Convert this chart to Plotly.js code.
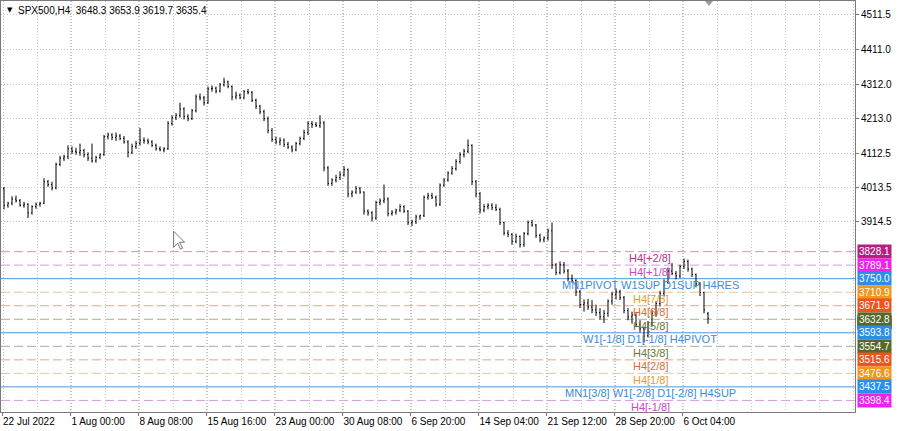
<!DOCTYPE html>
<html>
<head>
<meta charset="utf-8">
<script src="https://cdn.plot.ly/plotly-3.0.1.min.js"></script>
<style>html,body{margin:0;padding:0;background:#fff;}#chart{width:900px;height:431px;}</style>
</head>
<body>
<div id="chart"></div>
<script>
// ---- Data (H4 bars, aggregated) ----
const openP = [4010,3962,3968,3980,3975,3962,3965,3940,3958,3965,3968,4030,4022,4012,4080,4098,4102,4125,4118,4115,4120,4108,4098,4090,4100,4108,4160,4165,4158,4162,4155,4145,4115,4132,4140,4150,4148,4145,4135,4125,4122,4125,4198,4215,4222,4240,4218,4212,4235,4275,4272,4258,4298,4300,4292,4310,4318,4305,4275,4280,4272,4290,4288,4265,4248,4232,4212,4178,4152,4145,4150,4138,4130,4122,4140,4155,4172,4198,4195,4192,4200,4070,4025,4035,4042,4050,4065,3995,4000,4010,4000,3945,3940,3925,3970,3975,3980,3938,3942,3948,3958,3945,3912,3915,3928,3932,3985,3990,3985,3965,4020,4035,4055,4068,4088,4108,4118,4135,4030,3995,3948,3958,3962,3955,3950,3912,3882,3878,3858,3872,3848,3880,3912,3905,3875,3862,3868,3888,3790,3768,3790,3772,3750,3745,3712,3675,3680,3668,3660,3652,3640,3650,3685,3705,3712,3695,3658,3640,3645,3618,3605,3585,3620,3650,3678,3708,3740,3772,3765,3758,3785,3800,3778,3762,3735,3710,3648.3];
const highP = [4015,3972,3988,3990,3980,3972,3968,3962,3970,3972,4040,4035,4030,4085,4105,4108,4135,4132,4128,4140,4125,4115,4140,4105,4112,4165,4172,4170,4172,4168,4162,4150,4140,4148,4185,4158,4155,4150,4140,4132,4130,4205,4222,4228,4258,4245,4225,4240,4282,4285,4278,4305,4308,4305,4315,4330,4322,4308,4290,4285,4295,4298,4292,4270,4252,4238,4218,4185,4160,4158,4155,4145,4135,4145,4160,4180,4205,4205,4202,4222,4205,4075,4040,4050,4060,4075,4068,4005,4018,4015,4002,3950,3945,3975,3982,4022,3985,3948,3952,3965,3962,3948,3920,3935,3935,3990,3998,3998,3990,4025,4040,4060,4075,4095,4115,4125,4152,4138,4035,4000,3965,3968,3968,3965,3955,3915,3890,3882,3880,3875,3885,3918,3920,3908,3880,3872,3895,3912,3795,3800,3798,3778,3762,3748,3718,3690,3692,3688,3675,3665,3660,3690,3712,3722,3718,3700,3665,3655,3650,3630,3612,3628,3660,3685,3715,3748,3782,3795,3772,3790,3808,3805,3782,3765,3740,3712,3653.9];
const lowP = [3950,3955,3962,3970,3958,3955,3925,3935,3952,3958,3965,4015,4005,4008,4075,4090,4095,4110,4108,4105,4100,4090,4085,4085,4095,4105,4152,4150,4148,4150,4140,4100,4110,4125,4135,4140,4138,4130,4120,4118,4115,4122,4192,4208,4215,4210,4205,4208,4230,4265,4250,4255,4290,4285,4288,4305,4300,4265,4268,4268,4268,4282,4260,4240,4225,4205,4170,4145,4138,4135,4130,4125,4115,4118,4135,4150,4165,4185,4188,4185,4060,4018,4018,4028,4035,4045,3985,3985,3995,3995,3935,3932,3915,3920,3962,3968,3930,3932,3935,3942,3940,3905,3902,3908,3920,3928,3978,3980,3958,3960,4015,4030,4050,4062,4082,4100,4112,4020,3985,3938,3942,3950,3948,3945,3905,3875,3870,3848,3852,3840,3842,3875,3900,3868,3855,3855,3860,3778,3760,3762,3765,3742,3738,3700,3665,3655,3660,3650,3642,3632,3622,3640,3675,3690,3688,3650,3630,3620,3610,3595,3565,3580,3612,3640,3670,3700,3735,3760,3748,3752,3778,3770,3755,3725,3700,3650,3619.7];
const closeP = [3962,3968,3980,3975,3962,3965,3940,3958,3965,3968,4030,4022,4012,4080,4098,4102,4125,4118,4115,4120,4108,4098,4090,4100,4108,4160,4165,4158,4162,4155,4145,4115,4132,4140,4150,4148,4145,4135,4125,4122,4125,4198,4215,4222,4240,4218,4212,4235,4275,4272,4258,4298,4300,4292,4310,4318,4305,4275,4280,4272,4290,4288,4265,4248,4232,4212,4178,4152,4145,4150,4138,4130,4122,4140,4155,4172,4198,4195,4192,4200,4070,4025,4035,4042,4050,4065,3995,4000,4010,4000,3945,3940,3925,3970,3975,3980,3938,3942,3948,3958,3945,3912,3915,3928,3932,3985,3990,3985,3965,4020,4035,4055,4068,4088,4108,4118,4135,4030,3995,3948,3958,3962,3955,3950,3912,3882,3878,3858,3872,3848,3880,3912,3905,3875,3862,3868,3888,3790,3768,3790,3772,3750,3745,3712,3675,3680,3668,3660,3652,3640,3650,3685,3705,3712,3695,3658,3640,3645,3618,3605,3585,3620,3650,3678,3708,3740,3772,3765,3758,3785,3800,3778,3762,3735,3710,3660,3635.4];

// time-axis labels (bar-index positions)
const timeLabels = ['22 Jul 2022','1 Aug 00:00','8 Aug 08:00','15 Aug 16:00','23 Aug 00:00','30 Aug 08:00','6 Sep 20:00','14 Sep 04:00','21 Sep 12:00','28 Sep 20:00','6 Oct 04:00'];
const timeTickPos = [-0.5,16.6,33.6,50.6,67.6,84.6,101.6,118.6,135.6,152.6,169.6];

// price-axis ticks
const priceTicks = [4511.5,4411.0,4312.0,4213.0,4112.5,4013.5,3914.5];
const priceTickText = ['4511.5','4411.0','4312.0','4213.0','4112.5','4013.5','3914.5'];

// Murrey-math / pivot levels
const levels = [3828.1,3789.1,3750.0,3710.9,3671.9,3632.8,3593.8,3554.7,3515.6,3476.6,3437.5,3398.4];
const levelNames = ['H4[+2/8]','H4[+1/8]','MN1PIVOT W1SUP D1SUP H4RES','H4[7/8]','H4[6/8]','H4[5/8]','W1[-1/8] D1[-1/8] H4PIVOT','H4[3/8]','H4[2/8]','H4[1/8]','MN1[3/8] W1[-2/8] D1[-2/8] H4SUP','H4[-1/8]'];
const levelSolid = [false,false,true,false,false,false,true,false,false,false,true,false];
const levelBoxColors = ['#B52181','#EE22EE','#2A8EEB','#F3961C','#EC5420','#56682C','#2A8EEB','#56682C','#EC5420','#F3961C','#2A8EEB','#EE22EE'];
const levelLineColors = ['#C99BBE','#DD99DD','#4F95D8','#E6C79A','#E3A88C','#A8AC96','#4F95D8','#A8AC96','#E3A88C','#E6C79A','#4F95D8','#DD99DD'];
const levelTextColors = ['#B0358A','#CC44CC','#3A8BDC','#E69A3C','#E06A30','#66783A','#3A8BDC','#66783A','#E06A30','#E69A3C','#3A8BDC','#CC44CC'];
const lastPrice = 3635.4;
const headerText = 'SPX500,H4\u00a0\u00a03648.3 3653.9 3619.7 3635.4';

// ---- Build ----
const xIdx = closeP.map((_, i) => i);
const FONT = 'Liberation Sans, Arial, sans-serif';

const trace = {
  type: 'ohlc', x: xIdx, open: openP, high: highP, low: lowP, close: closeP,
  increasing: {line: {color: '#000', width: 1}},
  decreasing: {line: {color: '#000', width: 1}},
  tickwidth: 0.25, hoverinfo: 'skip', showlegend: false
};

const shapes = levels.map((v, k) => ({
  type: 'line', xref: 'paper', x0: 0, x1: 1, yref: 'y', y0: v, y1: v,
  line: {color: levelLineColors[k], width: 1, dash: levelSolid[k] ? 'solid' : '9px,4px'},
  layer: 'below'
}));
// mouse cursor (screenshot artefact)
shapes.push({type: 'path', xref: 'x', yref: 'y', xsizemode: 'pixel', ysizemode: 'pixel',
  xanchor: 42.4, yanchor: 3887,
  path: 'M0,0 L0,-16 L4,-12 L7,-18 L9,-17 L6,-11 L11,-11 Z',
  fillcolor: '#fff', line: {color: '#555', width: 0.8}});
// chart-shift marker
shapes.push({type: 'path', xref: 'paper', yref: 'paper', xsizemode: 'pixel', ysizemode: 'pixel',
  xanchor: 0.829, yanchor: 1, path: 'M-4,0 L4,0 L0,-5 Z',
  fillcolor: '#9a9a9a', line: {width: 0}});

const annotations = [];
// hidden current-price box
annotations.push({xref: 'paper', x: 1, xanchor: 'left', xshift: 2, yref: 'y', y: lastPrice, yshift: -4,
  text: lastPrice.toFixed(1), showarrow: false, bgcolor: '#000', borderpad: 1,
  font: {family: FONT, size: 10, color: '#fff'}});
levels.forEach((v, k) => {
  annotations.push({xref: 'paper', x: 1, xanchor: 'left', xshift: 2, yref: 'y', y: v,
    text: v.toFixed(1), showarrow: false, bgcolor: levelBoxColors[k], borderpad: 1,
    font: {family: FONT, size: 10, color: '#fff'}});
  annotations.push({xref: 'x', x: 161.5, xanchor: 'center', yref: 'y', y: v, yshift: -6.5,
    text: levelNames[k], showarrow: false,
    font: {family: FONT, size: 11, color: levelTextColors[k]}});
});
annotations.push({xref: 'paper', x: 0, xanchor: 'left', xshift: 4, yref: 'paper', y: 1, yanchor: 'top', yshift: -3,
  text: '▼', showarrow: false, font: {family: 'DejaVu Sans, sans-serif', size: 7, color: '#000'}});
annotations.push({xref: 'paper', x: 0, xanchor: 'left', xshift: 15, yref: 'paper', y: 1, yanchor: 'top', yshift: -2,
  text: headerText, showarrow: false, font: {family: FONT, size: 10, color: '#000'}});

const layout = {
  width: 900, height: 431,
  margin: {l: 1, r: 45, t: 1, b: 19},
  paper_bgcolor: '#fff', plot_bgcolor: '#fff',
  showlegend: false, dragmode: false,
  xaxis: {
    range: [-0.75, 212.75], rangeslider: {visible: false}, fixedrange: true,
    tickmode: 'array', tickvals: timeTickPos, ticktext: timeLabels,
    ticks: 'outside', ticklen: 3, tickcolor: '#777', tickangle: 0,
    ticklabelposition: 'outside right',
    tickfont: {family: FONT, size: 10, color: '#000'},
    showgrid: true, gridcolor: '#c4c4c4', griddash: '1px,2px', gridwidth: 1,
    minor: {tick0: 8.25, dtick: 8.5, showgrid: true, gridcolor: '#c4c4c4', griddash: '1px,2px', ticks: ''},
    showline: true, linecolor: '#7a7a7a', linewidth: 1, mirror: true, zeroline: false
  },
  yaxis: {
    side: 'right', range: [3365.0, 4551.9], fixedrange: true,
    tickmode: 'array', tickvals: priceTicks, ticktext: priceTickText,
    ticks: 'outside', ticklen: 3, tickcolor: '#777',
    tickfont: {family: FONT, size: 10, color: '#000'},
    showgrid: true, gridcolor: '#c4c4c4', griddash: '1px,2px', gridwidth: 1,
    showline: true, linecolor: '#7a7a7a', linewidth: 1, mirror: true, zeroline: false
  },
  shapes: shapes, annotations: annotations
};

Plotly.newPlot('chart', [trace], layout, {staticPlot: true, displayModeBar: false});
</script>
</body>
</html>
